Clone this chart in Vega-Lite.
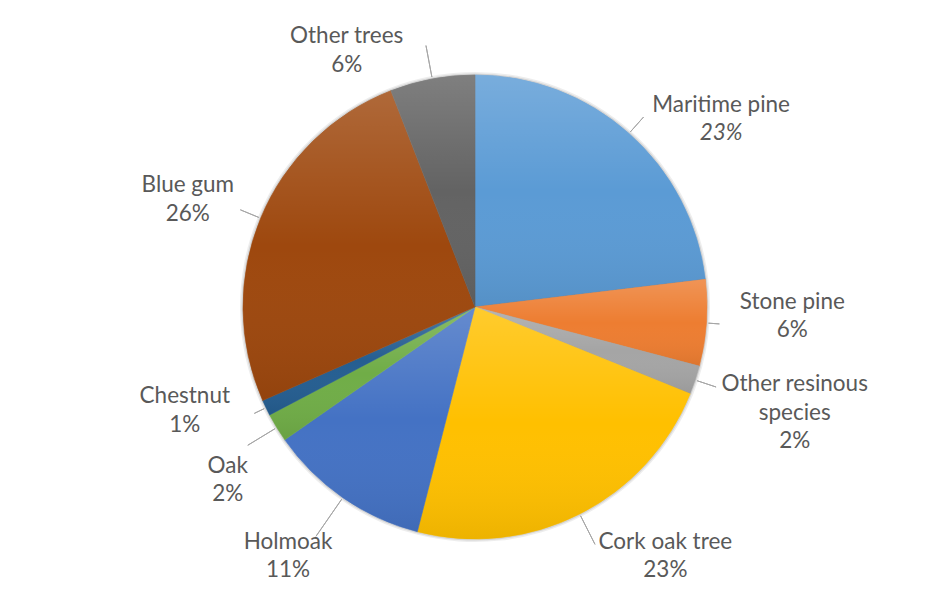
{
  "$schema": "https://vega.github.io/schema/vega-lite/v6.json",
  "width": 912,
  "height": 584,
  "autosize": {"type": "none"},
  "padding": {"left": 19, "top": 15, "right": 0, "bottom": 0},
  "background": "white",
  "config": {"view": {"stroke": null}},
  "data": {
    "values": [
      {"idx": 1, "species": "Maritime pine", "value": 23.1, "name": "Maritime pine", "pct": "23%", "label": "Maritime pine\n23%"},
      {"idx": 2, "species": "Stone pine", "value": 6.0, "name": "Stone pine", "pct": "6%", "label": "Stone pine\n6%"},
      {"idx": 3, "species": "Other resinous species", "value": 2.0, "name": "Other resinous\nspecies", "pct": "2%", "label": "Other resinous\nspecies\n2%"},
      {"idx": 4, "species": "Cork oak tree", "value": 22.9, "name": "Cork oak tree", "pct": "23%", "label": "Cork oak tree\n23%"},
      {"idx": 5, "species": "Holmoak", "value": 11.3, "name": "Holmoak", "pct": "11%", "label": "Holmoak\n11%"},
      {"idx": 6, "species": "Oak", "value": 2.0, "name": "Oak", "pct": "2%", "label": "Oak\n2%"},
      {"idx": 7, "species": "Chestnut", "value": 1.1, "name": "Chestnut", "pct": "1%", "label": "Chestnut\n1%"},
      {"idx": 8, "species": "Blue gum", "value": 25.7, "name": "Blue gum", "pct": "26%", "label": "Blue gum\n26%"},
      {"idx": 9, "species": "Other trees", "value": 5.9, "name": "Other trees", "pct": "6%", "label": "Other trees\n6%"}
    ]
  },
  "encoding": {
    "theta": {"field": "value", "type": "quantitative", "stack": true},
    "order": {"field": "idx", "type": "quantitative"}
  },
  "layer": [
    {"mark": {"type": "arc", "radius": 235, "fill": "#000000", "fillOpacity": 0.07, "strokeWidth": 0}},
    {"mark": {"type": "arc", "radius": 233.5, "fill": "#000000", "fillOpacity": 0.1, "strokeWidth": 0}},
    {
      "mark": {"type": "arc", "radius": 232, "strokeWidth": 0.6},
      "encoding": {
        "color": {"field": "species", "type": "nominal", "legend": null,
          "scale": {"domain": ["Maritime pine", "Stone pine", "Other resinous species", "Cork oak tree", "Holmoak", "Oak", "Chestnut", "Blue gum", "Other trees"],
                    "range": ["#5B9BD5", "#ED7D31", "#A5A5A5", "#FFC000", "#4472C4", "#70AD47", "#255E91", "#9E480E", "#636363"]}},
        "stroke": {"field": "species", "type": "nominal", "legend": null,
          "scale": {"domain": ["Maritime pine", "Stone pine", "Other resinous species", "Cork oak tree", "Holmoak", "Oak", "Chestnut", "Blue gum", "Other trees"],
                    "range": ["#5B9BD5", "#ED7D31", "#A5A5A5", "#FFC000", "#4472C4", "#70AD47", "#255E91", "#9E480E", "#636363"]}}
      }
    },
    {
      "mark": {"type": "arc", "radius": 232,
        "fill": {"gradient": "linear", "x1": 0, "y1": 0, "x2": 0, "y2": 1,
          "stops": [{"offset": 0, "color": "rgba(255,255,255,0.18)"}, {"offset": 0.5, "color": "rgba(255,255,255,0)"}, {"offset": 1, "color": "rgba(0,0,0,0.07)"}]}}
    },
    {"mark": {"type": "arc", "radius": 245, "radius2": 234, "padAngle": 3, "filled": false, "stroke": "#A6A6A6", "strokeWidth": 1},
     "encoding": {"strokeOpacity": {"condition": {"test": {"field": "species", "oneOf": ["Stone pine", "Chestnut"]}, "value": 1}, "value": 0}}},
    {"mark": {"type": "arc", "radius": 254, "radius2": 234, "padAngle": 3, "filled": false, "stroke": "#A6A6A6", "strokeWidth": 1},
     "encoding": {"strokeOpacity": {"condition": {"test": {"field": "species", "oneOf": ["Maritime pine", "Other resinous species", "Blue gum"]}, "value": 1}, "value": 0}}},
    {"mark": {"type": "arc", "radius": 266, "radius2": 234, "padAngle": 3, "filled": false, "stroke": "#A6A6A6", "strokeWidth": 1},
     "encoding": {"strokeOpacity": {"condition": {"test": {"field": "species", "oneOf": ["Cork oak tree", "Oak", "Other trees"]}, "value": 1}, "value": 0}}},
    {"mark": {"type": "arc", "radius": 279, "radius2": 234, "padAngle": 3, "filled": false, "stroke": "#A6A6A6", "strokeWidth": 1},
     "encoding": {"strokeOpacity": {"condition": {"test": "datum.species === 'Holmoak'", "value": 1}, "value": 0}}},
    {"mark": {"type": "text", "radius": 300, "dx": 47, "dy": 22, "font": "Lato", "fontSize": 22.5, "fill": "#595959", "align": "center", "baseline": "middle"},
     "encoding": {"text": {"condition": {"test": "datum.species === 'Maritime pine'", "field": "name", "type": "nominal"}, "value": ""}}},
    {"mark": {"type": "text", "radius": 300, "dx": 47, "dy": 50, "font": "Lato", "fontSize": 22.5, "fontStyle": "italic", "fill": "#595959", "align": "center", "baseline": "middle"},
     "encoding": {"text": {"condition": {"test": "datum.species === 'Maritime pine'", "field": "pct", "type": "nominal"}, "value": ""}}},
    {"mark": {"type": "text", "radius": 300, "dx": 18, "dy": -26, "font": "Lato", "fontSize": 22.5, "fill": "#595959", "align": "center", "baseline": "middle", "lineBreak": "\n", "lineHeight": 28.5},
     "encoding": {"text": {"condition": {"test": "datum.species === 'Stone pine'", "field": "label", "type": "nominal"}, "value": ""}}},
    {"mark": {"type": "text", "radius": 300, "dx": 35, "dy": -17, "font": "Lato", "fontSize": 22.5, "fill": "#595959", "align": "center", "baseline": "middle", "lineBreak": "\n", "lineHeight": 28.5},
     "encoding": {"text": {"condition": {"test": "datum.species === 'Other resinous species'", "field": "label", "type": "nominal"}, "value": ""}}},
    {"mark": {"type": "text", "radius": 300, "dx": 55, "dy": -33, "font": "Lato", "fontSize": 22.5, "fill": "#595959", "align": "center", "baseline": "middle", "lineBreak": "\n", "lineHeight": 28.5},
     "encoding": {"text": {"condition": {"test": "datum.species === 'Cork oak tree'", "field": "label", "type": "nominal"}, "value": ""}}},
    {"mark": {"type": "text", "radius": 300, "dx": -16, "dy": -12, "font": "Lato", "fontSize": 22.5, "fill": "#595959", "align": "center", "baseline": "middle", "lineBreak": "\n", "lineHeight": 28.5},
     "encoding": {"text": {"condition": {"test": "datum.species === 'Holmoak'", "field": "label", "type": "nominal"}, "value": ""}}},
    {"mark": {"type": "text", "radius": 300, "dx": 9, "dy": 3, "font": "Lato", "fontSize": 22.5, "fill": "#595959", "align": "center", "baseline": "middle", "lineBreak": "\n", "lineHeight": 28.5},
     "encoding": {"text": {"condition": {"test": "datum.species === 'Oak'", "field": "label", "type": "nominal"}, "value": ""}}},
    {"mark": {"type": "text", "radius": 300, "dx": -20, "dy": -41, "font": "Lato", "fontSize": 22.5, "fill": "#595959", "align": "center", "baseline": "middle", "lineBreak": "\n", "lineHeight": 28.5},
     "encoding": {"text": {"condition": {"test": "datum.species === 'Chestnut'", "field": "label", "type": "nominal"}, "value": ""}}},
    {"mark": {"type": "text", "radius": 300, "dx": -10, "dy": -7, "font": "Lato", "fontSize": 22.5, "fill": "#595959", "align": "center", "baseline": "middle", "lineBreak": "\n", "lineHeight": 28.5},
     "encoding": {"text": {"condition": {"test": "datum.species === 'Blue gum'", "field": "label", "type": "nominal"}, "value": ""}}},
    {"mark": {"type": "text", "radius": 300, "dx": -73, "dy": 24, "font": "Lato", "fontSize": 22.5, "fill": "#595959", "align": "center", "baseline": "middle", "lineBreak": "\n", "lineHeight": 28.5},
     "encoding": {"text": {"condition": {"test": "datum.species === 'Other trees'", "field": "label", "type": "nominal"}, "value": ""}}}
  ]
}
